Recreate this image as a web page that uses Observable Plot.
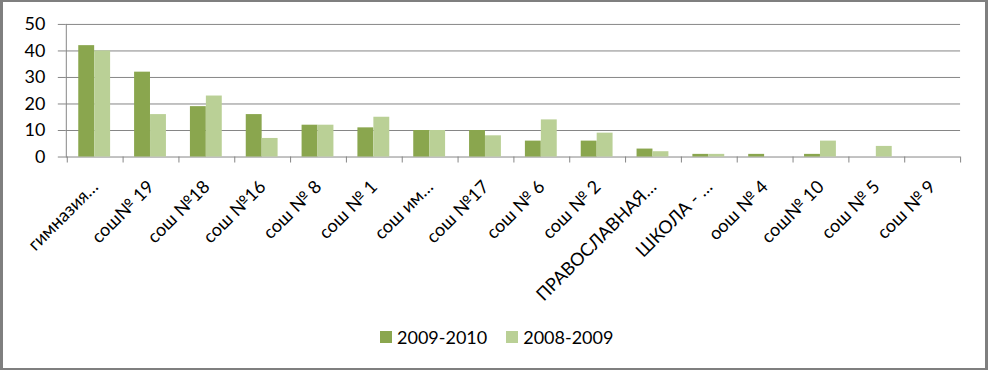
<!DOCTYPE html>
<html>
<head>
<meta charset="utf-8">
<script src="https://cdn.jsdelivr.net/npm/d3@7"></script>
<script src="https://cdn.jsdelivr.net/npm/@observablehq/plot@0.6"></script>
<style>
  html, body { margin: 0; padding: 0; background: #fff; }
  #wrap {
    position: relative; width: 988px; height: 370px; box-sizing: border-box;
    border-top: 2px solid #7f7f7f; border-left: 3px solid #7f7f7f;
    border-right: 3px solid #7f7f7f; border-bottom: 2px solid #7f7f7f;
    overflow: hidden; font-family: Lato, sans-serif;
  }
  #chart { position: absolute; left: -3px; top: -2px; }
  #legend {
    position: absolute; left: 377px; top: 324px; display: flex; align-items: center;
    font-size: 18px; color: #000; white-space: nowrap;
  }
  .sw { display: inline-block; width: 12px; height: 12px; margin-right: 5px; }
  .item { display: flex; align-items: center; margin-right: 19px; }
</style>
</head>
<body>
<div id="wrap"><div id="chart"></div>
<div id="legend"></div></div>
<script>
const schools = ["гимназия…", "сош№ 19", "сош №18", "сош №16", "сош № 8", "сош № 1", "сош им…", "сош №17", "сош № 6", "сош № 2", "ПРАВОСЛАВНАЯ…", "ШКОЛА - …", "оош № 4", "сош№ 10", "сош № 5", "сош № 9"];
const series = ["2009-2010", "2008-2009"];
const values2009 = [42, 32, 19, 16, 12, 11, 10, 10, 6, 6, 3, 1, 1, 1, 0, 0];
const values2008 = [40, 16, 23, 7, 12, 15, 10, 8, 14, 9, 2, 1, 0, 6, 4, 0];
const yTicks = [0, 10, 20, 30, 40, 50];
const colors = ["#8aa64e", "#bad096"];

const d2009 = schools.map((s, i) => ({school: s, value: values2009[i]}));
const d2008 = schools.map((s, i) => ({school: s, value: values2008[i]}));

const W = 988, H = 370, mL = 66, mR = 25;
const bw = (W - mL - mR) / schools.length;
const gray = "#868686";

const chart = Plot.plot({
  width: W, height: H,
  marginLeft: mL, marginRight: mR, marginTop: 24, marginBottom: 213,
  style: {fontFamily: "Lato, sans-serif", fontSize: "18px", color: "#000", background: "transparent", overflow: "visible"},
  x: {type: "band", domain: schools, padding: 0, axis: null},
  y: {domain: [0, 50], axis: null},
  marks: [
    Plot.gridY(yTicks, {stroke: gray, strokeOpacity: 1}),
    Plot.axisY(yTicks, {tickSize: 8, tickPadding: 13, stroke: gray, strokeOpacity: 1, fill: "#000", fontSize: 18, label: null}),
    Plot.frame({anchor: "left", stroke: gray}),
    Plot.barY(d2009, {x: "school", y: "value", fill: colors[0], insetLeft: 11.5, insetRight: bw - 27.5}),
    Plot.barY(d2008, {x: "school", y: "value", fill: colors[1], insetLeft: 27.5, insetRight: bw - 43.5}),
    Plot.axisX({tickSize: 6, dx: -bw / 2, tickFormat: () => "", stroke: gray, strokeOpacity: 1, label: null}),
    Plot.axisX([schools[schools.length - 1]], {tickSize: 6, dx: bw / 2, tickFormat: () => "", stroke: gray, strokeOpacity: 1, label: null}),
    Plot.axisX({tickSize: 0, tickRotate: -45, tickPadding: 27, dx: 0, fill: "#000", fontSize: 18, label: null})
  ]
});
document.getElementById("chart").append(chart);

const legend = document.getElementById("legend");
series.forEach((s, i) => {
  const it = document.createElement("span");
  it.className = "item";
  it.innerHTML = `<span class="sw" style="background:${colors[i]}"></span>${s}`;
  legend.append(it);
});
</script>
</body>
</html>
